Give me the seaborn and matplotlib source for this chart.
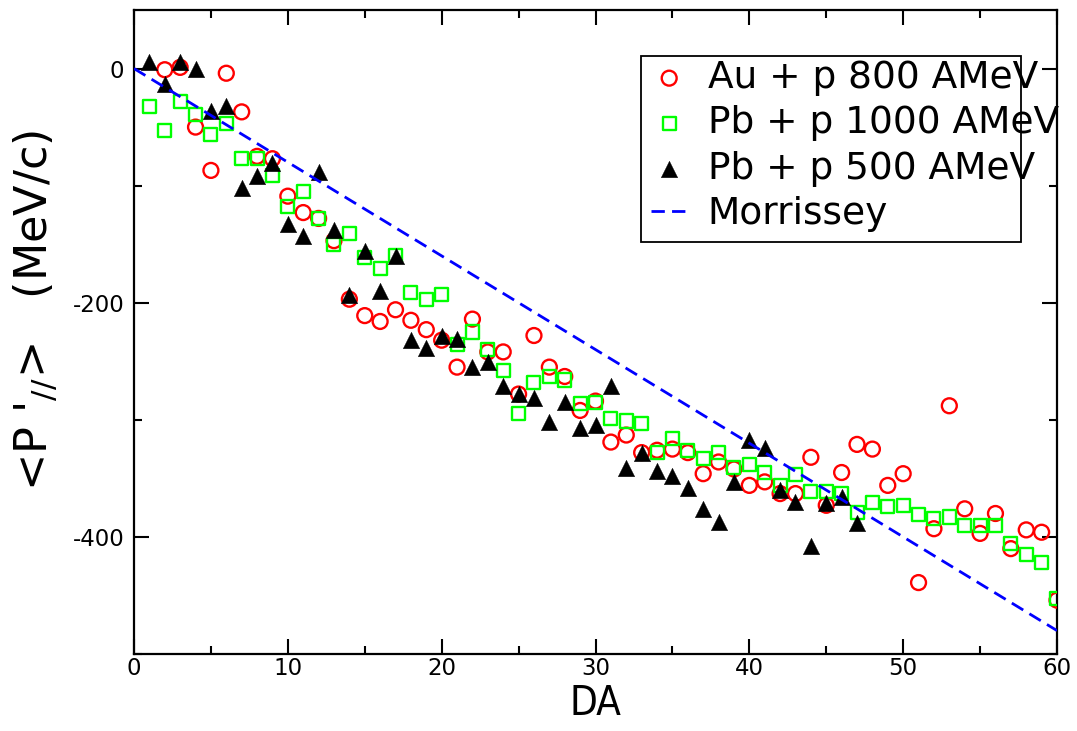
import matplotlib
matplotlib.use("Agg")
import matplotlib.pyplot as plt
import seaborn as sns
import numpy as np
from matplotlib.ticker import MultipleLocator
from matplotlib.patches import Rectangle

# ---------------- data ----------------
au_x = list(range(2, 61))
au_y = [-1, 1, -50, -87, -4, -37, -75, -77, -109, -123, -128, -147, -197, -211,
        -216, -206, -215, -223, -232, -255, -214, -242, -242, -278, -228, -255,
        -263, -292, -284, -319, -313, -328, -326, -325, -328, -346, -336, -342,
        -356, -353, -363, -363, -332, -373, -345, -321, -325, -356, -346, -439,
        -393, -288, -376, -397, -380, -410, -394, -396, -454]

pb1000_x = list(range(1, 61))
pb1000_y = [-32, -53, -28, -39, -56, -47, -77, -77, -91, -118, -105, -128, -150,
            -141, -161, -171, -160, -191, -197, -193, -236, -225, -240, -258,
            -295, -268, -263, -266, -286, -285, -299, -301, -303, -328, -316,
            -326, -333, -328, -341, -338, -345, -356, -347, -361, -361, -363,
            -379, -371, -374, -373, -381, -384, -383, -390, -390, -390, -406,
            -415, -422, -453]

pb500_x = list(range(1, 48))
pb500_y = [6, -13, 6, 0, -36, -32, -102, -92, -81, -133, -143, -88, -138, -193,
           -156, -190, -160, -232, -239, -228, -231, -255, -251, -271, -278,
           -281, -302, -285, -307, -304, -271, -341, -328, -344, -348, -358,
           -376, -387, -353, -317, -324, -360, -370, -408, -371, -366, -388]

morrissey_x = [0, 60]
morrissey_y = [0, -480]

labels = ["Au + p 800 AMeV", "Pb + p 1000 AMeV", "Pb + p 500 AMeV", "Morrissey"]

# ---------------- style ----------------
sns.set_style("ticks")
plt.rcParams["font.family"] = ["DejaVu Sans"]
plt.rcParams["mathtext.default"] = "regular"
plt.rcParams["axes.unicode_minus"] = False
plt.rcParams["text.color"] = "black"
plt.rcParams["axes.labelcolor"] = "black"
plt.rcParams["xtick.color"] = "black"
plt.rcParams["ytick.color"] = "black"
plt.rcParams["xtick.labelcolor"] = "black"
plt.rcParams["ytick.labelcolor"] = "black"

fig = plt.figure(figsize=(10.77, 7.31), dpi=100)
ax = fig.add_axes([134 / 1077, 77 / 731, 923 / 1077, 644 / 731])

sns.scatterplot(x=au_x, y=au_y, ax=ax, marker="o", s=115, facecolor="none",
                edgecolor="#ff0000", linewidth=1.7, label=labels[0], zorder=3)
sns.scatterplot(x=pb1000_x, y=pb1000_y, ax=ax, marker="s", s=88, facecolor="none",
                edgecolor="#00ff00", linewidth=1.7, label=labels[1], zorder=4)
sns.scatterplot(x=pb500_x, y=pb500_y, ax=ax, marker="^", s=140, color="black",
                edgecolor="black", linewidth=0.3, label=labels[2], zorder=5)
sns.lineplot(x=morrissey_x, y=morrissey_y, ax=ax, color="#0000ff", linewidth=2.0,
             linestyle=(0, (4.8, 2.6)), label=labels[3], zorder=6)

ax.set_xlim(0, 60)
ax.set_ylim(-500, 50)
ax.xaxis.set_major_locator(MultipleLocator(10))
ax.xaxis.set_minor_locator(MultipleLocator(5))
ax.yaxis.set_major_locator(MultipleLocator(200))
ax.yaxis.set_minor_locator(MultipleLocator(100))
ax.tick_params(which="both", direction="in", top=True, right=True, width=1.5,
               color="black")
ax.tick_params(which="major", length=11, labelsize=16.5)
ax.tick_params(axis="x", which="major", pad=2.5)
ax.tick_params(axis="y", which="major", pad=7)
ax.tick_params(which="minor", length=6)
for sp in ax.spines.values():
    sp.set_linewidth(1.6)
    sp.set_color("black")

ax.set_xlabel("DA", fontsize=29, family="DejaVu Sans", fontstretch="condensed",
              va="top")
ax.xaxis.set_label_coords(0.5, -0.046)
ax.set_ylabel("<P '$_{//}$>   (MeV/c)", fontsize=32)
ax.yaxis.set_label_coords(-0.08, 0.533)

leg = ax.legend(loc="upper left", bbox_to_anchor=((651 - 134) / 923, (654 - 60) / 644),
                frameon=False, fontsize=27, borderpad=0, labelspacing=0.25,
                handlelength=0.97, handletextpad=0.54, borderaxespad=0,
                markerscale=1.0)
ax.add_patch(Rectangle(((641 - 134) / 923, (654 - 242) / 644), 380 / 923, 186 / 644,
                       transform=ax.transAxes, fill=False, edgecolor="black",
                       linewidth=1.3, zorder=10, clip_on=False))

fig.savefig("out.png", dpi=100)
